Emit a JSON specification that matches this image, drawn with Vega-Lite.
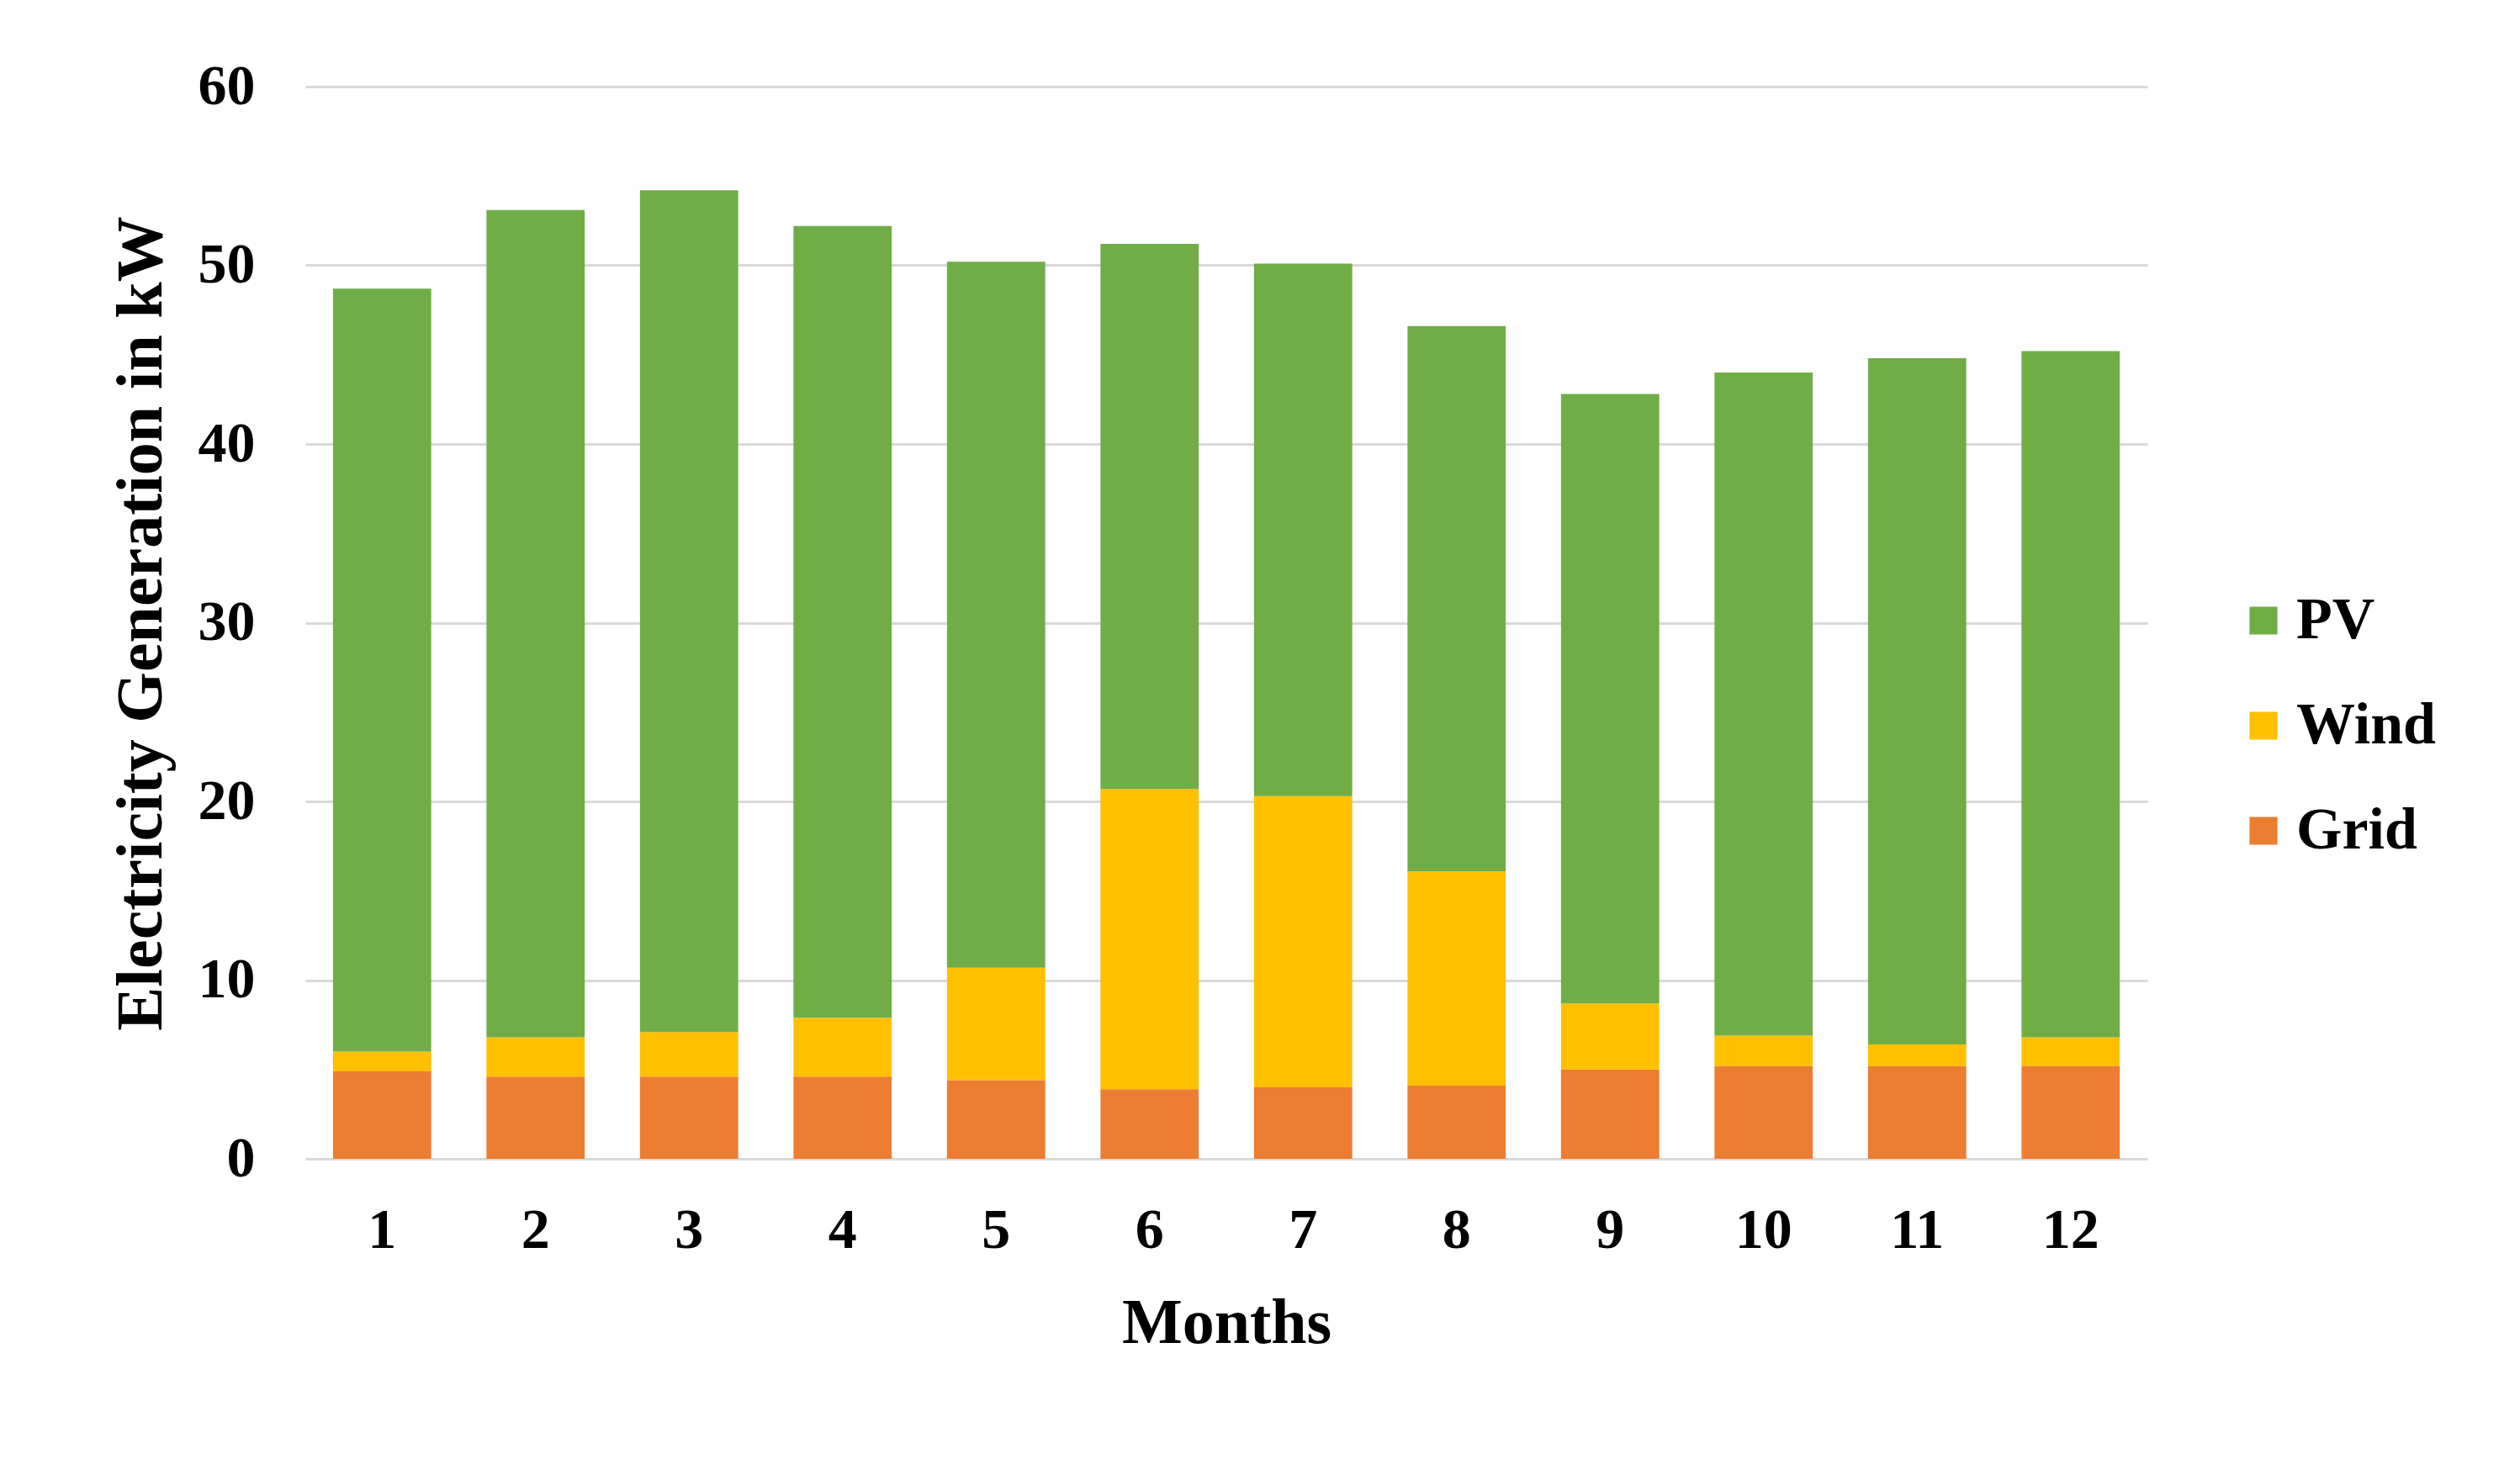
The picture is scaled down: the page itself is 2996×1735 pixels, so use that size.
{
  "$schema": "https://vega.github.io/schema/vega-lite/v6.json",
  "width": 2190,
  "height": 1275,
  "autosize": {"type": "none"},
  "padding": {"left": 363, "top": 103, "right": 443, "bottom": 357},
  "background": "white",
  "data": {
    "values": [
      {"month": "1", "source": "Grid", "kw": 4.9}, {"month": "1", "source": "Wind", "kw": 1.1}, {"month": "1", "source": "PV", "kw": 42.7},
      {"month": "2", "source": "Grid", "kw": 4.6}, {"month": "2", "source": "Wind", "kw": 2.2}, {"month": "2", "source": "PV", "kw": 46.3},
      {"month": "3", "source": "Grid", "kw": 4.6}, {"month": "3", "source": "Wind", "kw": 2.5}, {"month": "3", "source": "PV", "kw": 47.1},
      {"month": "4", "source": "Grid", "kw": 4.6}, {"month": "4", "source": "Wind", "kw": 3.3}, {"month": "4", "source": "PV", "kw": 44.3},
      {"month": "5", "source": "Grid", "kw": 4.4}, {"month": "5", "source": "Wind", "kw": 6.3}, {"month": "5", "source": "PV", "kw": 39.5},
      {"month": "6", "source": "Grid", "kw": 3.9}, {"month": "6", "source": "Wind", "kw": 16.8}, {"month": "6", "source": "PV", "kw": 30.5},
      {"month": "7", "source": "Grid", "kw": 4.0}, {"month": "7", "source": "Wind", "kw": 16.3}, {"month": "7", "source": "PV", "kw": 29.8},
      {"month": "8", "source": "Grid", "kw": 4.1}, {"month": "8", "source": "Wind", "kw": 12.0}, {"month": "8", "source": "PV", "kw": 30.5},
      {"month": "9", "source": "Grid", "kw": 5.0}, {"month": "9", "source": "Wind", "kw": 3.7}, {"month": "9", "source": "PV", "kw": 34.1},
      {"month": "10", "source": "Grid", "kw": 5.2}, {"month": "10", "source": "Wind", "kw": 1.7}, {"month": "10", "source": "PV", "kw": 37.1},
      {"month": "11", "source": "Grid", "kw": 5.2}, {"month": "11", "source": "Wind", "kw": 1.2}, {"month": "11", "source": "PV", "kw": 38.4},
      {"month": "12", "source": "Grid", "kw": 5.2}, {"month": "12", "source": "Wind", "kw": 1.6}, {"month": "12", "source": "PV", "kw": 38.4}
    ]
  },
  "transform": [
    {"calculate": "indexof(['Grid','Wind','PV'], datum.source)", "as": "stackRank"}
  ],
  "mark": {"type": "bar"},
  "encoding": {
    "x": {
      "field": "month",
      "type": "ordinal",
      "sort": ["1","2","3","4","5","6","7","8","9","10","11","12"],
      "scale": {"paddingInner": 0.36, "paddingOuter": 0.18},
      "title": "Months",
      "axis": {
        "labelAngle": 0,
        "ticks": false,
        "domain": true,
        "domainColor": "#d9d9d9",
        "domainWidth": 3,
        "labelPadding": 51,
        "titleX": 1095,
        "titleY": 195,
        "titleBaseline": "middle",
        "titleAlign": "center",
        "titleFontSize": 76
      }
    },
    "y": {
      "field": "kw",
      "type": "quantitative",
      "stack": "zero",
      "scale": {"domain": [0, 60], "nice": false},
      "title": "Electricity Generation in kW",
      "axis": {
        "values": [0, 10, 20, 30, 40, 50, 60],
        "ticks": false,
        "domain": false,
        "grid": true,
        "gridColor": "#d9d9d9",
        "gridWidth": 3,
        "labelPadding": 60,
        "titleAngle": -90,
        "titleX": -195,
        "titleY": 638,
        "titleBaseline": "middle",
        "titleAlign": "center",
        "titleFontSize": 78
      }
    },
    "order": {"field": "stackRank", "type": "quantitative", "sort": "ascending"},
    "color": {
      "field": "source",
      "type": "nominal",
      "scale": {"domain": ["PV", "Wind", "Grid"], "range": ["#70AD47", "#FFC000", "#ED7D31"]},
      "legend": {
        "title": null,
        "orient": "none",
        "legendX": 2293,
        "legendY": 600,
        "symbolType": "square",
        "symbolSize": 1100,
        "symbolStrokeWidth": 0,
        "labelFontSize": 70,
        "labelFont": "Liberation Serif",
        "labelFontWeight": "bold",
        "labelColor": "black",
        "labelOffset": 4,
        "rowPadding": 55,
        "labelLimit": 400
      }
    }
  },
  "config": {
    "view": {"stroke": null},
    "axis": {
      "labelFont": "Liberation Serif",
      "labelFontWeight": "bold",
      "labelFontSize": 68,
      "labelColor": "black",
      "titleFont": "Liberation Serif",
      "titleFontWeight": "bold",
      "titleFontSize": 74,
      "titleColor": "black"
    }
  }
}
